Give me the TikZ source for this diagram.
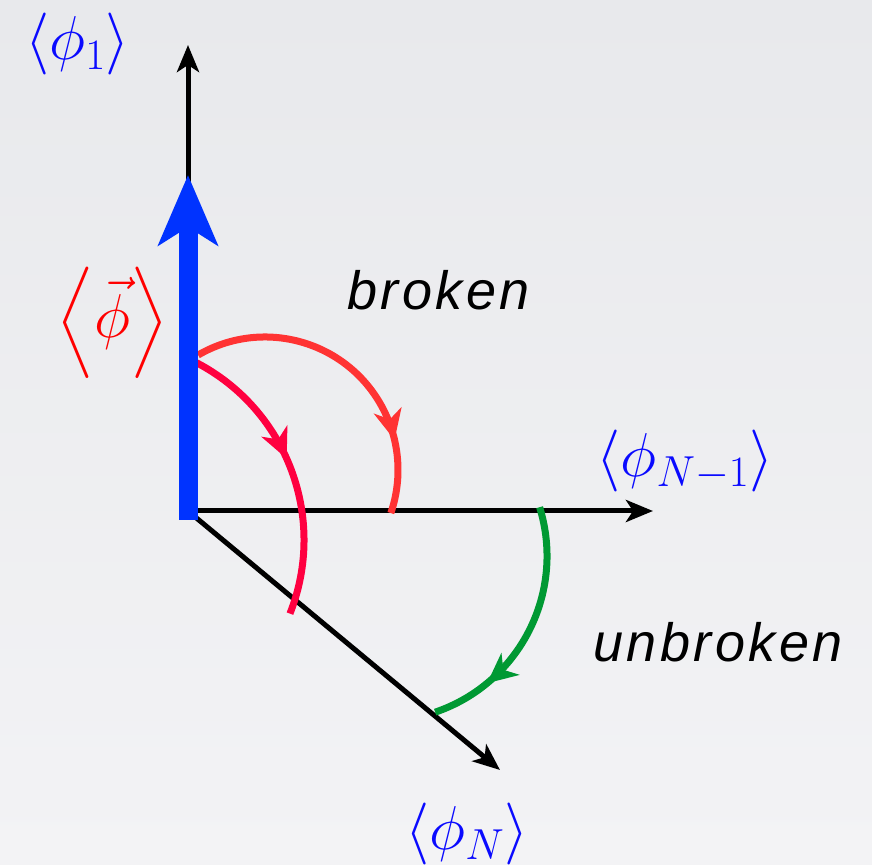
\RequirePackage{fix-cm}
\documentclass[tikz,border=0pt]{standalone}
\usepackage{amsmath}
\usepackage{fontspec}
\DeclareFontFamily{OMX}{cmex}{}
\DeclareFontShape{OMX}{cmex}{m}{n}{<->cmex10}{}
\newfontfamily\helvword{Liberation Sans}[LetterSpace=6.5]
\usetikzlibrary{arrows.meta,decorations.markings}
\definecolor{bgtop}{RGB}{232,233,236}
\definecolor{bgbot}{RGB}{243,243,245}
\definecolor{axblue}{RGB}{0,51,255}
\definecolor{lblblue}{RGB}{10,10,255}
\definecolor{lblred}{RGB}{255,0,0}
\definecolor{arcA}{RGB}{255,51,51}
\definecolor{arcB}{RGB}{255,0,64}
\definecolor{arcG}{RGB}{0,153,51}
\begin{document}
\begin{tikzpicture}[x=1pt,y=1pt,
  axisline/.style={line width=5pt,black,-{Stealth[length=27pt,width=22pt,inset=7pt]}},
  arcline/.style={line width=7pt},
  midarrow/.style={postaction={decorate},decoration={markings,
     mark=at position #1 with {\arrow{Stealth[length=30pt,width=28pt,inset=9pt]}}}},
  lbl/.style={inner sep=0pt,font=\fontsize{62}{74.4}\selectfont},
  wordlbl/.style={inner sep=0pt,anchor=base,font=\fontsize{54}{64}\selectfont\helvword\itshape}]
\shade[top color=bgtop,bottom color=bgbot] (0,0) rectangle (872,864);
\useasboundingbox (0,0) rectangle (872,864);
% coordinates
\coordinate (O) at (188,353);
\coordinate (Ytip) at (188,819);
\coordinate (Xtip) at (653,353);
\coordinate (Ztip) at (500,94);
\coordinate (Btail) at (188,344);
\coordinate (Btip) at (188,689);
\coordinate (C1) at (265,394);
\coordinate (C2) at (104,324);
\coordinate (C3) at (382,308);
% axes
\draw[axisline] (O) -- (Ytip);
\draw[axisline] (O) -- (Xtip);
\draw[axisline] (O) -- (Ztip);
% arcs
\draw[arcline,arcA,midarrow=0.77] (C1) ++(120.2:133pt) arc[start angle=120.2,end angle=-18.9,radius=133pt];
\draw[arcline,arcB,midarrow=0.457] (C2) ++(62.4:200pt) arc[start angle=62.4,end angle=-21.6,radius=200pt];
\draw[arcline,arcG,midarrow=0.765] (C3) ++(17.2:165pt) arc[start angle=17.2,end angle=-71.2,radius=165pt];
% blue vector
\draw[line width=19pt,axblue,-{Stealth[length=70pt,width=59pt,inset=18pt]}] (Btail) -- (Btip);
% labels
\node[lbl,text=lblblue] (phi1) at (77.5,819.5) {$\langle\phi_1\rangle$};
\node[lbl,text=lblblue] (phiN1) at (685,402.5) {$\langle\phi_{N-1}\rangle$};
\node[lbl,text=lblblue] (phiN) at (467,29.5) {$\langle\phi_N\rangle$};
\node[lbl,text=lblred] (vphi) at (112.5,541.5) {$\left\langle\vrule width 0pt height 65pt depth 34pt\vec{\phi}\right\rangle$};
\node[wordlbl] (broken) at (438.5,554) {broken};
\node[wordlbl] (unbroken) at (718,202) {unbroken};
\end{tikzpicture}
\end{document}
